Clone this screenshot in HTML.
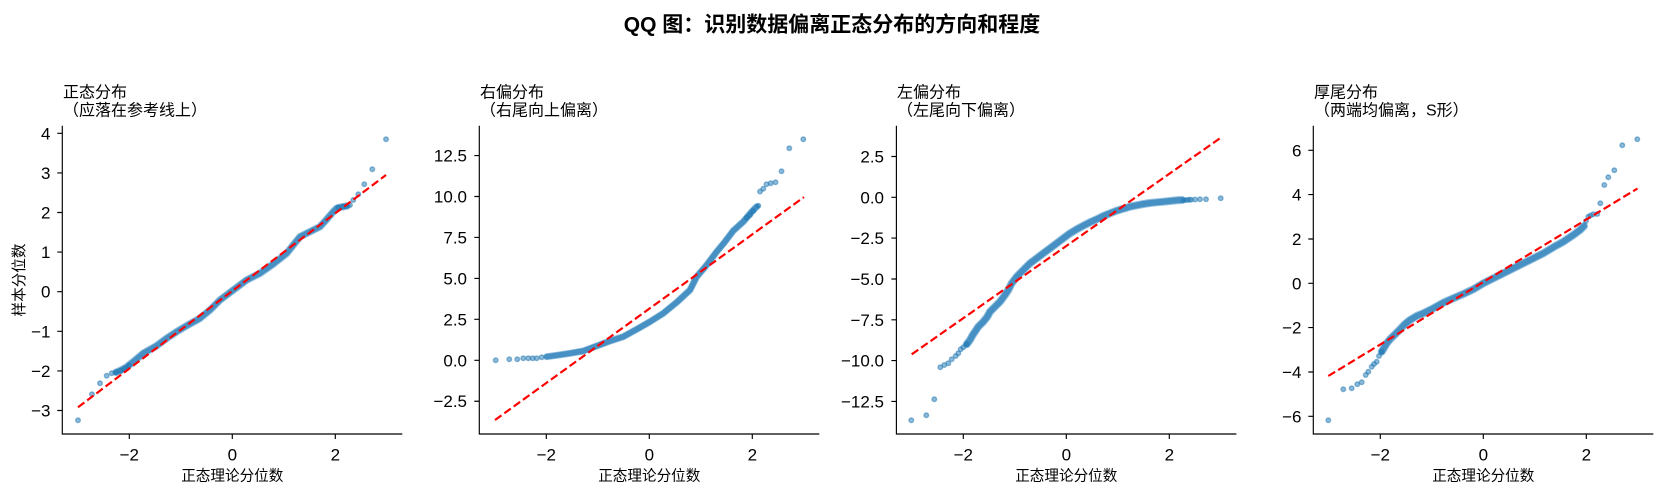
<!DOCTYPE html>
<html><head><meta charset="utf-8"><style>
html,body{margin:0;padding:0;background:#fff;}
svg{display:block;}
.t{font-family:"Liberation Sans","Noto Sans CJK SC",sans-serif;fill:#000;}
.tk{font-size:17px;}
.lb{font-size:14.6px;}
.ti{font-size:16px;}
.sp{stroke:#000;stroke-width:1.15;fill:none;}
.bu{fill:none;stroke:#93c0de;stroke-width:8;stroke-linecap:round;stroke-linejoin:round;}
.bd{fill:none;stroke:#4690c3;stroke-width:6;stroke-linecap:round;stroke-linejoin:round;}
.rl{stroke:#ff0000;stroke-width:2.17;stroke-dasharray:8 3.5;fill:none;}
circle{fill:#1f77b4;fill-opacity:.5;stroke:#1f77b4;stroke-opacity:.5;stroke-width:1.4;}
</style></head><body>
<svg width="1664" height="493" viewBox="0 0 1664 493" xmlns="http://www.w3.org/2000/svg">
<text class="t" x="832" y="31.3" text-anchor="middle" font-size="21" font-weight="600">QQ 图：识别数据偏离正态分布的方向和程度</text>

<!-- Panel 1 -->
<g>
<text class="t ti" x="63" y="97.3">正态分布</text>
<text class="t ti" x="63" y="115.4">（应落在参考线上）</text>
<polyline class="bu" style="stroke-width:7.5" points="116,372.3 120.7,370.3 126,367.5 133.3,361.7 143.3,353.3 156.7,345.7 166.7,338.3 176.7,331.7 186.7,325.7 200,318.3 210,310 220,300 233.3,290 246.7,280 260,273.3 273.3,264 286.7,253.3 293.3,245 300,236.7 310,231.7 320,226.7 326.7,219.3 333.3,211.7 336.7,208.3 342,206.8 347,206"/>
<polyline class="bd" style="stroke-width:5.5" points="116,372.3 120.7,370.3 126,367.5 133.3,361.7 143.3,353.3 156.7,345.7 166.7,338.3 176.7,331.7 186.7,325.7 200,318.3 210,310 220,300 233.3,290 246.7,280 260,273.3 273.3,264 286.7,253.3 293.3,245 300,236.7 310,231.7 320,226.7 326.7,219.3 333.3,211.7 336.7,208.3 342,206.8 347,206"/>
<circle cx="78" cy="420.3" r="2.3"/><circle cx="92" cy="394.3" r="2.3"/><circle cx="100" cy="383.3" r="2.3"/><circle cx="106.7" cy="375.7" r="2.3"/><circle cx="111.7" cy="373.3" r="2.3"/><circle cx="116" cy="372.3" r="2.3"/><circle cx="120.7" cy="370.7" r="2.3"/><circle cx="125" cy="368.3" r="2.3"/><circle cx="129" cy="365.5" r="2.3"/>
<circle cx="386" cy="139.3" r="2.3"/><circle cx="372.3" cy="169.3" r="2.3"/><circle cx="364.3" cy="184.3" r="2.3"/><circle cx="358.3" cy="194.3" r="2.3"/><circle cx="353.3" cy="200" r="2.3"/><circle cx="350" cy="205" r="2.3"/><circle cx="346.7" cy="206" r="2.3"/><circle cx="343.3" cy="206.7" r="2.3"/><circle cx="338.3" cy="207.3" r="2.3"/>
<line class="rl" x1="78" y1="407.3" x2="386" y2="175"/>
<path class="sp" d="M62.3,125.7V434H402.3"/>
<path class="sp" d="M57.3,133.3H62.3M57.3,172.9H62.3M57.3,212.5H62.3M57.3,252.1H62.3M57.3,291.7H62.3M57.3,331.3H62.3M57.3,370.9H62.3M57.3,410.5H62.3M129.3,434V439M232.3,434V439M335.3,434V439"/>
<g class="t tk" text-anchor="end">
<text x="50.5" y="139.3">4</text><text x="50.5" y="178.9">3</text><text x="50.5" y="218.5">2</text><text x="50.5" y="258.1">1</text><text x="50.5" y="297.7">0</text><text x="50.5" y="337.3">−1</text><text x="50.5" y="376.9">−2</text><text x="50.5" y="416.5">−3</text>
</g>
<g class="t tk" text-anchor="middle">
<text x="129.3" y="460.3">−2</text><text x="232.3" y="460.3">0</text><text x="335.3" y="460.3">2</text>
</g>
<text class="t lb" x="232.3" y="480.5" text-anchor="middle">正态理论分位数</text>
<text class="t lb" transform="translate(23.8,280) rotate(-90)" text-anchor="middle">样本分位数</text>
</g>

<!-- Panel 2 -->
<g>
<text class="t ti" x="480" y="97.3">右偏分布</text>
<text class="t ti" x="480" y="115.4">（右尾向上偏离）</text>
<polyline class="bu" style="stroke-width:7" points="546.7,356.7 556.7,355.3 570,353.3 583.3,351 596.7,346 610,341 623.3,336.7 636.7,329.3 650,321.7 663.3,313.3 676.7,302.3 690,290 696.7,276.7 706.7,265 716.7,251.7 725,241.7 733.3,230.7 743.3,221.7 751.7,211.7 756.7,206.7"/>
<polyline class="bd" style="stroke-width:5.5" points="546.7,356.7 556.7,355.3 570,353.3 583.3,351 596.7,346 610,341 623.3,336.7 636.7,329.3 650,321.7 663.3,313.3 676.7,302.3 690,290 696.7,276.7 706.7,265 716.7,251.7 725,241.7 733.3,230.7 743.3,221.7 751.7,211.7 756.7,206.7"/>
<circle cx="495.7" cy="360.3" r="2.3"/><circle cx="509.3" cy="359.3" r="2.3"/><circle cx="517.3" cy="359.3" r="2.3"/><circle cx="523.3" cy="358.3" r="2.3"/><circle cx="528.3" cy="358.3" r="2.3"/><circle cx="532.7" cy="358.3" r="2.3"/><circle cx="536.7" cy="358.3" r="2.3"/><circle cx="541.7" cy="357.3" r="2.3"/>
<circle cx="746.7" cy="217.7" r="2.3"/><circle cx="750" cy="215" r="2.3"/><circle cx="753.3" cy="211" r="2.3"/><circle cx="758.3" cy="205.7" r="2.3"/><circle cx="760" cy="191.5" r="2.3"/><circle cx="763.3" cy="188.7" r="2.3"/><circle cx="766.5" cy="184.2" r="2.3"/><circle cx="770.7" cy="183.2" r="2.3"/><circle cx="775.5" cy="182.3" r="2.3"/><circle cx="781.5" cy="171.2" r="2.3"/><circle cx="789.3" cy="148.3" r="2.3"/><circle cx="803.3" cy="139.3" r="2.3"/>
<line class="rl" x1="495" y1="420" x2="804" y2="197.1"/>
<path class="sp" d="M479.3,125.7V434H819.3"/>
<path class="sp" d="M474.3,155.55H479.3M474.3,196.5H479.3M474.3,237.45H479.3M474.3,278.4H479.3M474.3,319.35H479.3M474.3,360.3H479.3M474.3,401.25H479.3M546.3,434V439M649.3,434V439M752.3,434V439"/>
<g class="t tk" text-anchor="end">
<text x="467" y="161.5">12.5</text><text x="467" y="202.5">10.0</text><text x="467" y="243.4">7.5</text><text x="467" y="284.4">5.0</text><text x="467" y="325.3">2.5</text><text x="467" y="366.3">0.0</text><text x="467" y="407.2">−2.5</text>
</g>
<g class="t tk" text-anchor="middle">
<text x="546.3" y="460.3">−2</text><text x="649.3" y="460.3">0</text><text x="752.3" y="460.3">2</text>
</g>
<text class="t lb" x="649.3" y="480.5" text-anchor="middle">正态理论分位数</text>
</g>

<!-- Panel 3 -->
<g>
<text class="t ti" x="897" y="97.3">左偏分布</text>
<text class="t ti" x="897" y="115.4">（左尾向下偏离）</text>
<polyline class="bu" points="966.7,344.3 970,340 972.7,335 975,331.7 978.3,326.7 983.3,321.7 987.3,316.7 990,311.7 995,306.7 1000,301.7 1005,295 1008.3,290 1011.7,283.3 1016.7,276.7 1023.3,270 1030,263.3 1036.7,258.3 1043.3,253.3 1050,248.3 1056.7,243.3 1063.3,238.3 1070,233.3 1076.7,229.3 1083.3,225.7 1090,222.3 1096.7,219.3 1103.3,216 1110,213.3 1116.7,210.7 1123.3,208.7 1130,206.7 1136.7,205.3 1143.3,204 1150,203 1156.7,202.3 1163.3,201.7 1170,201 1176.7,200.3 1182,200"/>
<polyline class="bd" points="966.7,344.3 970,340 972.7,335 975,331.7 978.3,326.7 983.3,321.7 987.3,316.7 990,311.7 995,306.7 1000,301.7 1005,295 1008.3,290 1011.7,283.3 1016.7,276.7 1023.3,270 1030,263.3 1036.7,258.3 1043.3,253.3 1050,248.3 1056.7,243.3 1063.3,238.3 1070,233.3 1076.7,229.3 1083.3,225.7 1090,222.3 1096.7,219.3 1103.3,216 1110,213.3 1116.7,210.7 1123.3,208.7 1130,206.7 1136.7,205.3 1143.3,204 1150,203 1156.7,202.3 1163.3,201.7 1170,201 1176.7,200.3 1182,200"/>
<circle cx="911.3" cy="420.3" r="2.3"/><circle cx="926.3" cy="415.3" r="2.3"/><circle cx="934.3" cy="399.3" r="2.3"/><circle cx="940.3" cy="367.3" r="2.3"/><circle cx="944.3" cy="365" r="2.3"/><circle cx="948.3" cy="363.3" r="2.3"/><circle cx="951.7" cy="359.3" r="2.3"/><circle cx="955.7" cy="356" r="2.3"/><circle cx="958.3" cy="353.3" r="2.3"/><circle cx="960.7" cy="349.3" r="2.3"/><circle cx="963.3" cy="347.3" r="2.3"/><circle cx="966.7" cy="344.3" r="2.3"/>
<circle cx="1184" cy="200.2" r="2.3"/><circle cx="1186.7" cy="200" r="2.3"/><circle cx="1189" cy="199.8" r="2.3"/><circle cx="1191" cy="199.7" r="2.3"/><circle cx="1195" cy="199.5" r="2.3"/><circle cx="1200" cy="199.3" r="2.3"/><circle cx="1206" cy="199.3" r="2.3"/><circle cx="1220.7" cy="198.3" r="2.3"/>
<line class="rl" x1="911.7" y1="354.3" x2="1220.8" y2="137.7"/>
<path class="sp" d="M896.4,125.7V434H1236.4"/>
<path class="sp" d="M891.4,156.5H896.4M891.4,197.3H896.4M891.4,238.1H896.4M891.4,279H896.4M891.4,319.8H896.4M891.4,360.6H896.4M891.4,401.4H896.4M963.3,434V439M1066.3,434V439M1169.3,434V439"/>
<g class="t tk" text-anchor="end">
<text x="884" y="162.5">2.5</text><text x="884" y="203.3">0.0</text><text x="884" y="244.1">−2.5</text><text x="884" y="285">−5.0</text><text x="884" y="325.8">−7.5</text><text x="884" y="366.6">−10.0</text><text x="884" y="407.4">−12.5</text>
</g>
<g class="t tk" text-anchor="middle">
<text x="963.3" y="460.3">−2</text><text x="1066.3" y="460.3">0</text><text x="1169.3" y="460.3">2</text>
</g>
<text class="t lb" x="1066.3" y="480.5" text-anchor="middle">正态理论分位数</text>
</g>

<!-- Panel 4 -->
<g>
<text class="t ti" x="1314" y="97.3">厚尾分布</text>
<text class="t ti" x="1314" y="115.4">（两端均偏离，S形）</text>
<polyline class="bu" points="1381.7,351.7 1386.7,343.3 1390,339.3 1393.3,336 1396.7,332.7 1400,329.3 1405,324 1410,320 1416.7,316 1423.3,313.3 1433.3,308.3 1443.3,302.7 1453.3,298.3 1463.3,294 1473.3,289.3 1483.3,283.3 1493.3,278.3 1503.3,273.3 1513.3,268.3 1523.3,263.3 1533.3,258.3 1543.3,253.3 1553.3,247.3 1563.3,241.7 1573.3,235 1580,230 1584,226"/>
<polyline class="bd" points="1381.7,351.7 1386.7,343.3 1390,339.3 1393.3,336 1396.7,332.7 1400,329.3 1405,324 1410,320 1416.7,316 1423.3,313.3 1433.3,308.3 1443.3,302.7 1453.3,298.3 1463.3,294 1473.3,289.3 1483.3,283.3 1493.3,278.3 1503.3,273.3 1513.3,268.3 1523.3,263.3 1533.3,258.3 1543.3,253.3 1553.3,247.3 1563.3,241.7 1573.3,235 1580,230 1584,226"/>
<circle cx="1328.3" cy="420.3" r="2.3"/><circle cx="1343.3" cy="389.3" r="2.3"/><circle cx="1351.7" cy="388.3" r="2.3"/><circle cx="1357.3" cy="384.3" r="2.3"/><circle cx="1361.7" cy="382.3" r="2.3"/><circle cx="1365.7" cy="375" r="2.3"/><circle cx="1368.3" cy="371.7" r="2.3"/><circle cx="1371.7" cy="366.7" r="2.3"/><circle cx="1374" cy="364" r="2.3"/><circle cx="1376.7" cy="361.7" r="2.3"/><circle cx="1379" cy="356" r="2.3"/><circle cx="1381.7" cy="351.7" r="2.3"/>
<circle cx="1586" cy="221" r="2.3"/><circle cx="1588.3" cy="216.7" r="2.3"/><circle cx="1590.5" cy="215.5" r="2.3"/><circle cx="1593.3" cy="214.3" r="2.3"/><circle cx="1597.3" cy="214" r="2.3"/><circle cx="1600.3" cy="203.3" r="2.3"/><circle cx="1604.3" cy="185" r="2.3"/><circle cx="1608.3" cy="177.3" r="2.3"/><circle cx="1614.3" cy="170.3" r="2.3"/><circle cx="1622.3" cy="145.3" r="2.3"/><circle cx="1637.3" cy="139.3" r="2.3"/>
<line class="rl" x1="1328.3" y1="376" x2="1637.5" y2="188.5"/>
<path class="sp" d="M1313.3,125.7V434H1653.3"/>
<path class="sp" d="M1308.3,150.3H1313.3M1308.3,194.6H1313.3M1308.3,239H1313.3M1308.3,283.3H1313.3M1308.3,327.6H1313.3M1308.3,372H1313.3M1308.3,416.3H1313.3M1380.3,434V439M1483.3,434V439M1586.3,434V439"/>
<g class="t tk" text-anchor="end">
<text x="1301.5" y="156.3">6</text><text x="1301.5" y="200.6">4</text><text x="1301.5" y="245">2</text><text x="1301.5" y="289.3">0</text><text x="1301.5" y="333.6">−2</text><text x="1301.5" y="378">−4</text><text x="1301.5" y="422.3">−6</text>
</g>
<g class="t tk" text-anchor="middle">
<text x="1380.3" y="460.3">−2</text><text x="1483.3" y="460.3">0</text><text x="1586.3" y="460.3">2</text>
</g>
<text class="t lb" x="1483.3" y="480.5" text-anchor="middle">正态理论分位数</text>
</g>
</svg>
</body></html>
